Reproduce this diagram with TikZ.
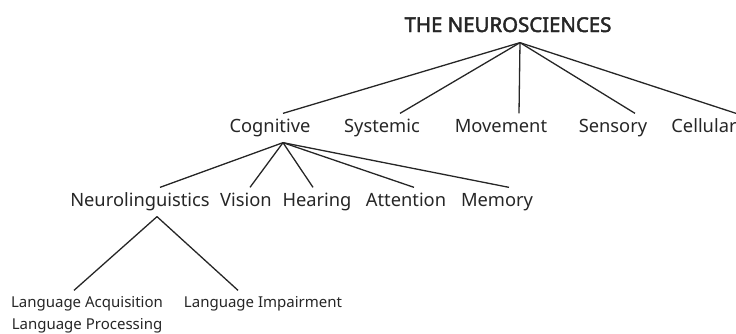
\documentclass[tikz,border=0pt]{standalone}
\usepackage{fontspec}
\setmainfont{Noto Sans}
\newfontfamily\headfont{Noto Sans}[FakeBold=2.2]
\usepackage{tikz}

\begin{document}
\begin{tikzpicture}[
	x=1pt, y=-1pt, line width=1.3pt, color=black!85,
	field/.style={anchor=base,inner xsep=0pt,inner ysep=5pt,font=\headfont\fontsize{20.4}{24}\selectfont,text height=14pt,text depth=5pt},
	branch/.style={anchor=base,inner xsep=0pt,inner ysep=5pt,font=\fontsize{18.3}{22}\selectfont,text height=13pt,text depth=5pt},
	leaf/.style={anchor=base,inner xsep=0pt,inner ysep=5pt,font=\fontsize{15}{18}\selectfont,text height=11pt,text depth=4pt}
	]
	\useasboundingbox (0,0) rectangle (736,333);
	\node [field,name=N] at (508,32) {THE NEUROSCIENCES};
	\node [branch,name=C] at (270,132) {Cognitive};
	\node [branch,name=S] at (382,132) {Systemic};
	\node [branch,name=M] at (501,132) {Movement};
	\node [branch,name=R] at (613,132) {Sensory};
	\node [branch,name=L] at (704,132) {Cellular};
	\node [branch,name=NL] at (140,206) {Neurolinguistics};
	\node [branch,name=V] at (246,206) {Vision};
	\node [branch,name=H] at (317,206) {Hearing};
	\node [branch,name=A] at (406,206) {Attention};
	\node [branch,name=Me] at (497,206) {Memory};
	\node [leaf,name=LA] at (87,307) {Language Acquisition};
	\node [leaf,name=LP] at (87,329) {Language Processing};
	\node [leaf,name=LI] at (263,307) {Language Impairment};
	\draw ([xshift=12pt]N.south) -- ([xshift=13pt]C.north);
	\draw ([xshift=12pt]N.south) -- ([xshift=18pt]S.north);
	\draw ([xshift=12pt]N.south) -- ([xshift=18pt]M.north);
	\draw ([xshift=12pt]N.south) -- ([xshift=22pt]R.north);
	\draw ([xshift=12pt]N.south) -- ([xshift=32pt]L.north);
	\draw ([xshift=13pt]C.south) -- ([xshift=20pt]NL.north);
	\draw ([xshift=13pt]C.south) -- ([xshift=4pt]V.north);
	\draw ([xshift=13pt]C.south) -- ([xshift=-4pt]H.north);
	\draw ([xshift=13pt]C.south) -- ([xshift=8pt]A.north);
	\draw ([xshift=13pt]C.south) -- ([xshift=12pt]Me.north);
	\draw ([xshift=17pt]NL.south) -- ([xshift=-13pt]LA.north);
	\draw ([xshift=17pt]NL.south) -- ([xshift=-25pt]LI.north);
\end{tikzpicture}
\end{document}
